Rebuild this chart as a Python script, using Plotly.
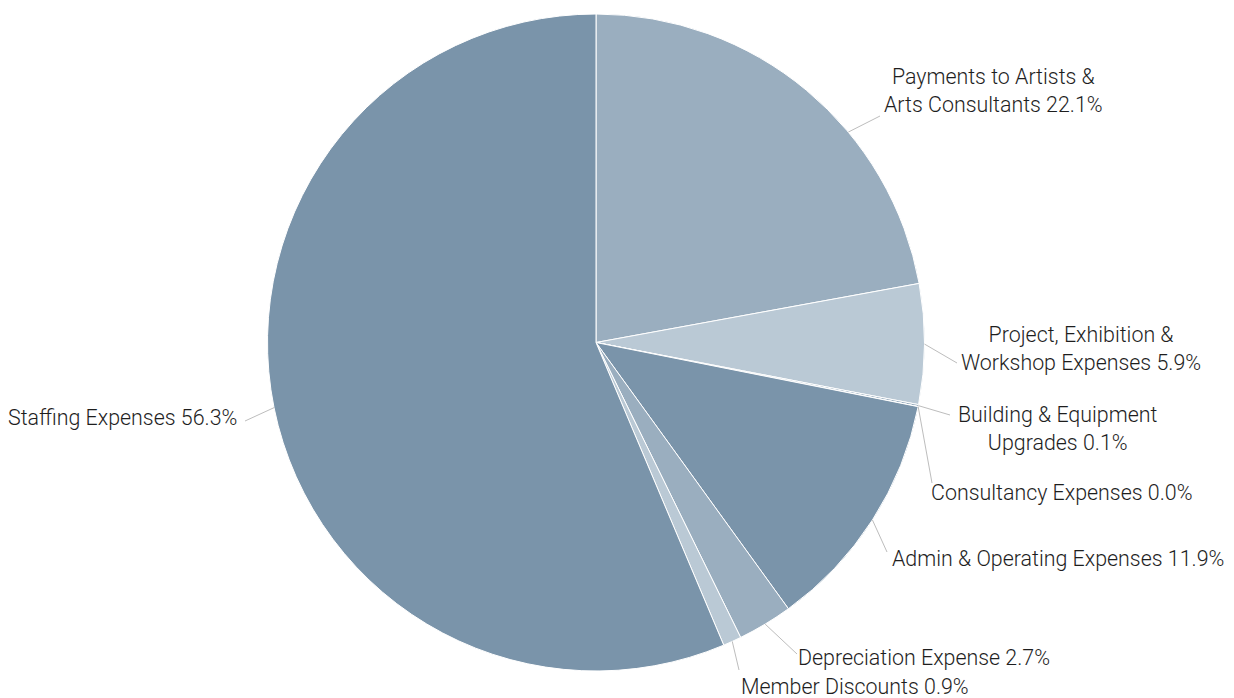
import math
import plotly.graph_objects as go

# ---------------- data ----------------
categories = [
    "Payments to Artists & Arts Consultants",
    "Project, Exhibition & Workshop Expenses",
    "Building & Equipment Upgrades",
    "Consultancy Expenses",
    "Admin & Operating Expenses",
    "Depreciation Expense",
    "Member Discounts",
    "Staffing Expenses",
]
display_labels = [
    "Payments to Artists &<br>Arts Consultants",
    "Project, Exhibition &<br>Workshop Expenses",
    "Building & Equipment<br>Upgrades",
    "Consultancy Expenses",
    "Admin & Operating Expenses",
    "Depreciation Expense",
    "Member Discounts",
    "Staffing Expenses",
]
percent_values = [22.1, 5.9, 0.1, 0.0, 11.9, 2.7, 0.9, 56.3]

# ---------------- style / layout ----------------
W, H = 1234, 698
DARK, MID, LIGHT = "#7a94aa", "#9aaebf", "#bac9d5"
slice_colors = [MID, LIGHT, MID, MID, DARK, MID, LIGHT, DARK]

cx_px, cy_px, r_px = 596.0, 342.5, 328.5
dom_x = [(cx_px - r_px) / W, (cx_px + r_px) / W]
dom_y = [1 - (cy_px + r_px) / H, 1 - (cy_px - r_px) / H]

# fraction along each slice where leader line starts
leader_frac = [0.63, 0.5, 0.5, 0.5, 0.5, 0.5, 0.5, 0.5]
# leader end points and label centres (pixels)
leader_end = [(880, 116), (957, 363), (950, 415), (932, 483),
              (887, 552), (797, 654), (739, 670), (245, 421)]
label_xy = [(993, 91), (1081, 348.5), (1058, 428.5), (1061, 492),
            (1058, 558), (924, 657), (855, 686), (122, 417)]

def px2paper(x, y):
    return x / W, 1 - y / H

fig = go.Figure()
fig.add_trace(go.Pie(
    labels=categories,
    values=percent_values,
    sort=False,
    direction="clockwise",
    rotation=0,
    textinfo="none",
    marker=dict(colors=slice_colors, line=dict(color="#ffffff", width=1)),
    domain=dict(x=dom_x, y=dom_y),
    showlegend=False,
    hovertemplate="%{label}: %{value:.1f}%<extra></extra>",
))

total = sum(percent_values)
cum = 0.0
shapes, annotations = [], []
for i, v in enumerate(percent_values):
    theta = math.radians(360.0 * (cum + leader_frac[i] * v) / total)
    cum += v
    sx = cx_px + r_px * math.sin(theta)
    sy = cy_px - r_px * math.cos(theta)
    ex, ey = leader_end[i]
    x0, y0 = px2paper(sx, sy)
    x1, y1 = px2paper(ex, ey)
    shapes.append(dict(type="line", xref="paper", yref="paper",
                       x0=x0, y0=y0, x1=x1, y1=y1,
                       line=dict(color="#bdbdbd", width=1)))
    lx, ly = px2paper(*label_xy[i])
    annotations.append(dict(
        x=lx, y=ly, xref="paper", yref="paper",
        xanchor="center", yanchor="middle", align="center",
        showarrow=False,
        text=f"{display_labels[i]} {v:.1f}%",
        font=dict(family="Roboto", size=21.4, color="#1e1e1e", weight=300),
    ))

fig.update_layout(
    width=W, height=H,
    margin=dict(l=0, r=0, t=0, b=0),
    paper_bgcolor="#ffffff",
    plot_bgcolor="#ffffff",
    shapes=shapes,
    annotations=annotations,
)

fig.write_html("out.html",
               config={"displayModeBar": False},
               post_script="document.body.style.margin='0';document.body.style.overflow='hidden';")
